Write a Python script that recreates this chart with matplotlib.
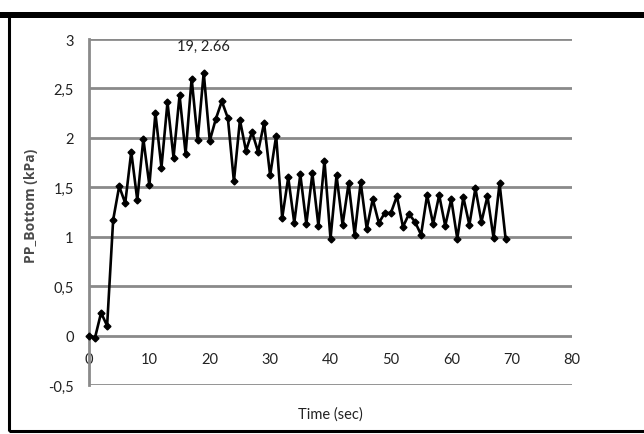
import matplotlib.pyplot as plt
from matplotlib.patches import Rectangle

plt.rcParams['font.family'] = ['Lato', 'DejaVu Sans']

# time in seconds, one sample per second
time_s = list(range(70))
pp_bottom = [0.00, -0.02, 0.23, 0.10, 1.17, 1.51, 1.34, 1.86, 1.37, 1.99,
             1.52, 2.25, 1.70, 2.36, 1.80, 2.43, 1.84, 2.60, 1.98, 2.66,
             1.97, 2.19, 2.37, 2.20, 1.56, 2.18, 1.87, 2.06, 1.86, 2.15,
             1.62, 2.02, 1.19, 1.60, 1.14, 1.63, 1.13, 1.64, 1.11, 1.77,
             0.98, 1.62, 1.12, 1.54, 1.02, 1.55, 1.08, 1.38, 1.14, 1.24,
             1.24, 1.41, 1.10, 1.23, 1.15, 1.02, 1.42, 1.13, 1.42, 1.11,
             1.38, 0.98, 1.40, 1.12, 1.49, 1.15, 1.41, 0.99, 1.54, 0.98]

x_ticks = [0, 10, 20, 30, 40, 50, 60, 70, 80]
y_ticks = [-0.5, 0, 0.5, 1, 1.5, 2, 2.5, 3]
y_labels = ['-0,5', '0', '0,5', '1', '1,5', '2', '2,5', '3']

fig = plt.figure(figsize=(6.44, 4.35), dpi=100)
ax = fig.add_axes([89 / 644, 49 / 435, 483 / 644, 346 / 435])

grid_col = '#8a8a8a'
ax.set_xlim(0, 80)
ax.set_ylim(-0.5, 3)
ax.set_yticks(y_ticks)
ax.set_yticklabels(y_labels)
ax.set_xticks(x_ticks)
ax.grid(axis='y', color=grid_col, lw=2.0)
ax.set_axisbelow(True)

for side in ['top', 'right']:
    ax.spines[side].set_visible(False)
ax.spines['left'].set_color(grid_col)
ax.spines['left'].set_linewidth(2.0)
ax.spines['bottom'].set_position(('data', 0))
ax.spines['bottom'].set_visible(False)
ax.tick_params(axis='both', length=0, labelsize=10.5, colors='#222222')
ax.tick_params(axis='x', pad=12)
ax.tick_params(axis='y', pad=11)

ax.plot(time_s, pp_bottom, color='black', lw=1.9, marker='D', ms=3.5,
        zorder=3, clip_on=False)

i_max = pp_bottom.index(max(pp_bottom))
ax.annotate(f'{time_s[i_max]}, {pp_bottom[i_max]:.2f}',
            (time_s[i_max], pp_bottom[i_max]), xytext=(0, 19),
            textcoords='offset points', ha='center', va='center', fontsize=10.5,
            color='#222222')

ax.set_ylabel('PP_Bottom (kPa)', fontsize=10, fontweight='bold',
              color='#4a4a4a', family=['Open Sans', 'DejaVu Sans'])
ax.yaxis.set_label_coords(-0.105, 0.52)
ax.set_xlabel('Time (sec)', fontsize=10.5, color='#222222')
ax.xaxis.set_label_coords(0.5, -0.062)

# frame around the chart
fig.patches.append(Rectangle((9 / 644, 3 / 435), 1.0, 417 / 435,
                             transform=fig.transFigure, fill=False,
                             edgecolor='black', lw=2.2))
fig.patches.append(Rectangle((0, 416 / 435), 1.0, 6 / 435,
                             transform=fig.transFigure, color='black', lw=0))

fig.savefig('out.png', dpi=100)
